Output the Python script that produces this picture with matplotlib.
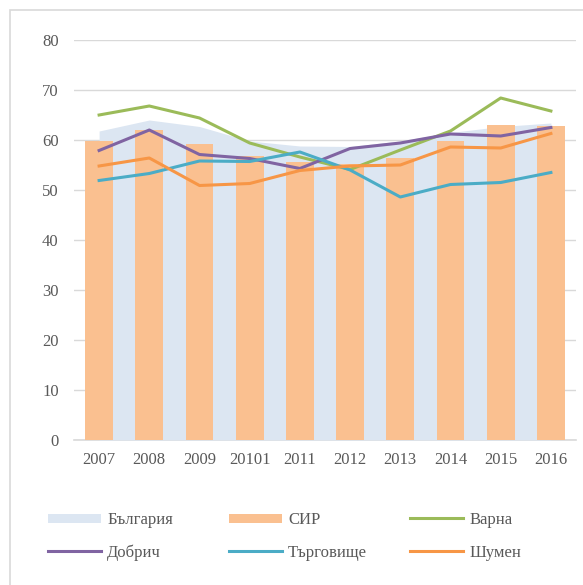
import numpy as np
import matplotlib
matplotlib.use("Agg")
import matplotlib.pyplot as plt
from matplotlib.patches import Rectangle

plt.rcParams['font.family'] = ['Liberation Serif', 'DejaVu Serif']

years = ["2007", "2008", "2009", "20101", "2011", "2012", "2013", "2014", "2015", "2016"]
bulgaria = [61.8, 64.0, 62.7, 59.8, 58.8, 58.7, 59.8, 61.5, 62.7, 63.4]
sir = [59.8, 62.0, 59.2, 56.8, 55.7, 55.2, 56.4, 59.8, 63.1, 62.8]
varna = [65.0, 66.8, 64.4, 59.4, 56.6, 54.1, 58.0, 61.8, 68.4, 65.8]
dobrich = [57.9, 62.0, 57.1, 56.3, 54.3, 58.3, 59.4, 61.2, 60.8, 62.5]
targovishte = [51.9, 53.3, 55.8, 55.7, 57.6, 54.0, 48.6, 51.1, 51.5, 53.5]
shumen = [54.8, 56.4, 50.9, 51.3, 53.9, 54.8, 55.0, 58.6, 58.4, 61.3]

c_area = "#dce6f2"
c_bar = "#fac090"
c_varna = "#9bbb59"
c_dobrich = "#8064a2"
c_targ = "#4bacc6"
c_shumen = "#f79646"
txt = "#595959"

fig = plt.figure(figsize=(5.83, 5.85), dpi=100)
# chart frame
fig.patches.append(Rectangle((10 / 583, -0.1), 1.2, 1 - 10 / 585 + 0.1,
                             transform=fig.transFigure, fill=False,
                             edgecolor="#d9d9d9", linewidth=1.2))

ax = fig.add_axes([74 / 583, (585 - 440) / 585, 502 / 583, 400 / 585])
x = np.arange(len(years))

ax.fill_between(x, 0, bulgaria, color=c_area, linewidth=0, label="България", zorder=1)
ax.bar(x, sir, width=0.55, color=c_bar, label="СИР", zorder=2)
lw = 2.2
ax.plot(x, varna, color=c_varna, lw=lw, label="Варна", zorder=3)
ax.plot(x, dobrich, color=c_dobrich, lw=lw, label="Добрич", zorder=3)
ax.plot(x, targovishte, color=c_targ, lw=lw, label="Търговище", zorder=3)
ax.plot(x, shumen, color=c_shumen, lw=lw, label="Шумен", zorder=3)

ax.set_xlim(-0.5, len(years) - 0.5)
ax.set_ylim(0, 80)
ax.set_yticks(range(0, 81, 10))
ax.set_xticks(x)
ax.set_xticklabels(years)
ax.yaxis.grid(True, color="#d9d9d9", linewidth=1)
ax.set_axisbelow(True)
for s in ["top", "right", "left"]:
    ax.spines[s].set_visible(False)
ax.spines["bottom"].set_color("#d9d9d9")
ax.spines["bottom"].set_linewidth(1.2)
ax.spines["bottom"].set_zorder(0.5)
ax.tick_params(axis="both", length=0, labelsize=12, labelcolor=txt)
ax.tick_params(axis="y", pad=11)
ax.tick_params(axis="x", pad=9)

# legend: three equal-width columns, like the original
h, l = ax.get_legend_handles_labels()
hd = dict(zip(l, h))
columns = [["България", "Добрич"], ["СИР", "Търговище"], ["Варна", "Шумен"]]
col_x = [33, 214, 395]
for names, cx in zip(columns, col_x):
    leg = fig.legend([hd[k] for k in names], names, loc="upper left",
                     bbox_to_anchor=(cx / 583, 1 - 497 / 585), frameon=False,
                     fontsize=12, handlelength=3.2, handletextpad=0.35,
                     labelspacing=1.0, labelcolor=txt)
    for hh in leg.legend_handles:
        if hasattr(hh, "set_height"):
            hh.set_height(7)
            hh.set_y(0.5)

fig.savefig("out.png", dpi=100)
